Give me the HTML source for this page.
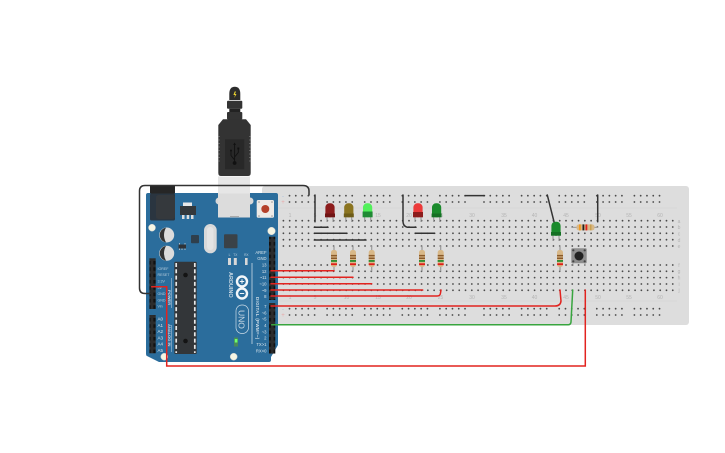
<!DOCTYPE html>
<html><head><meta charset="utf-8"><style>
html,body{margin:0;padding:0;background:#fff;width:725px;height:453px;overflow:hidden}
svg{display:block;font-family:"Liberation Sans",sans-serif}
</style></head><body>
<svg width="725" height="453" viewBox="0 0 725 453" xmlns="http://www.w3.org/2000/svg">
<defs>
<pattern id="pin" x="0" y="0" width="6.33" height="6.33" patternUnits="userSpaceOnUse"><rect width="6.33" height="6.33" fill="#2c2c2c"/><rect x="1.4" y="1.4" width="3.6" height="3.6" fill="#111"/></pattern>
<g id="res">
<rect x="-0.6" y="-13" width="1.2" height="26" fill="#9a9a9a"/>
<rect x="-3" y="-8.5" width="6" height="17" rx="2.4" fill="#d8b888"/>
<rect x="-3" y="-3.6" width="6" height="1.5" fill="#8a5a2a"/>
<rect x="-3" y="-1" width="6" height="1.5" fill="#8a5a2a"/>
<rect x="-3" y="1.6" width="6" height="1.7" fill="#1f8a2a"/>
<rect x="-3" y="4.8" width="6" height="1.8" fill="#e0201c"/>
</g>
</defs>
<rect width="725" height="453" fill="#fff"/>

<!-- breadboard -->
<rect x="262" y="186" width="427" height="139" rx="3" fill="#ddd"/>
<path d="M270 208H677M270 301H677" stroke="#d0d0d0" stroke-width=".6"/>
<g fill="none" stroke="#4a4a4a" stroke-width="1.800" stroke-linecap="round" stroke-dasharray="0.01 6.27">
<path d="M283.400 220.700H676M283.400 227H676M283.400 233.300H676M283.400 239.700H676M283.400 246H676"/>
<path d="M283.400 265H676M283.400 271.300H676M283.400 277.600H676M283.400 284H676M283.400 290.300H676"/>
<path d="M289.500 195.700h25.200M327.100 195.700h25.200M364.700 195.700h25.200M402.300 195.700h25.200M439.900 195.700h25.200M484 195.700h25.200M521.600 195.700h25.200M559.200 195.700h25.200M596.800 195.700h25.200M634.400 195.700h25.200"/>
<path d="M289.500 202h25.200M327.100 202h25.200M364.700 202h25.200M402.300 202h25.200M439.900 202h25.200M484 202h25.200M521.600 202h25.200M559.200 202h25.200M596.800 202h25.200M634.400 202h25.200"/>
<path d="M289.500 308.700h25.200M327.100 308.700h25.200M364.700 308.700h25.200M402.300 308.700h25.200M439.900 308.700h25.200M484 308.700h25.200M521.600 308.700h25.200M559.200 308.700h25.200M596.800 308.700h25.200M634.400 308.700h25.200"/>
<path d="M289.500 315h25.200M327.100 315h25.200M364.700 315h25.200M402.300 315h25.200M439.900 315h25.200M484 315h25.200M521.600 315h25.200M559.200 315h25.200M596.800 315h25.200M634.400 315h25.200"/>
</g>
<g font-size="5" fill="#b4b4b4" text-anchor="middle">
<text x="290" y="217">1</text><text x="315" y="217">5</text><text x="346.500" y="217">10</text><text x="378" y="217">15</text><text x="409" y="217">20</text><text x="440.500" y="217">25</text><text x="472" y="217">30</text><text x="504" y="217">35</text><text x="534.500" y="217">40</text><text x="566" y="217">45</text><text x="598" y="217">50</text><text x="629" y="217">55</text><text x="660" y="217">60</text>
<text x="290" y="299">1</text><text x="315" y="299">5</text><text x="346.500" y="299">10</text><text x="378" y="299">15</text><text x="409" y="299">20</text><text x="440.500" y="299">25</text><text x="472" y="299">30</text><text x="504" y="299">35</text><text x="534.500" y="299">40</text><text x="566" y="299">45</text><text x="598" y="299">50</text><text x="629" y="299">55</text><text x="660" y="299">60</text>
<text x="679" y="223">a</text><text x="679" y="229">b</text><text x="679" y="235.500">c</text><text x="679" y="242">d</text><text x="679" y="248">e</text>
<text x="679" y="267">f</text><text x="679" y="273">g</text><text x="679" y="279.500">h</text><text x="679" y="286">i</text><text x="679" y="292">j</text>
</g>
<g font-size="6" text-anchor="middle"><text x="283" y="198" fill="#a8c0dc">-</text><text x="283" y="204" fill="#e8a8a8">+</text><text x="283" y="311" fill="#a8c0dc">-</text><text x="283" y="317" fill="#e8a8a8">+</text></g>

<!-- arduino -->
<path d="M148 193H276Q278 193 278 195V345L271 357V360Q271 362 269 362H159L147 356Q146 355.500 146 354V195Q146 193 148 193Z" fill="#2b6d9c"/>
<path d="M252 263V344" stroke="#dfe8ef" stroke-width=".7"/>
<path d="M171.500 278V308M171.500 325V352" stroke="#9ab7cf" stroke-width=".7"/>
<!-- jack -->
<rect x="150" y="186" width="25" height="7.500" fill="#262626"/>
<rect x="150" y="193.500" width="25" height="27" rx="1.500" fill="#2a3540"/>
<rect x="156" y="195" width="19" height="24" rx="2.500" fill="#35393d"/>
<!-- regulator -->
<rect x="183" y="202.500" width="9" height="4" fill="#e8e8e8"/><rect x="180" y="206" width="16" height="9" fill="#33383c"/>
<rect x="182" y="215" width="2.500" height="4" fill="#ddd"/><rect x="186.700" y="215" width="2.500" height="4" fill="#ddd"/><rect x="191" y="215" width="2.500" height="4" fill="#ddd"/>
<!-- usb socket -->
<circle cx="219" cy="201" r="3.500" fill="#d8d8d8"/><circle cx="250" cy="201" r="3.500" fill="#d8d8d8"/>
<rect x="218" y="176.500" width="32" height="41" fill="#dcdcdc"/>
<rect x="218" y="176.500" width="32" height="17" fill="#e6e6e6"/>
<rect x="230" y="216" width="9" height="1" fill="#aaa"/>
<!-- reset -->
<rect x="256.700" y="200" width="17.300" height="17.700" rx="1.500" fill="#eeeae6"/>
<circle cx="265.300" cy="209" r="4" fill="#b5412a"/>
<g fill="#999"><circle cx="259" cy="202" r=".8"/><circle cx="272" cy="202" r=".8"/><circle cx="259" cy="216" r=".8"/><circle cx="272" cy="216" r=".8"/></g>
<!-- holes -->
<g fill="#f6f6e4" stroke="#ccc" stroke-width=".5"><circle cx="152" cy="227.700" r="3.500"/><circle cx="271.500" cy="231" r="3.800"/><circle cx="164.300" cy="356.700" r="3.500"/><circle cx="233.700" cy="356.700" r="3.500"/></g>
<!-- caps -->
<circle cx="166.700" cy="235" r="7.500" fill="#dcdcdc"/><path d="M166 227.600A7.500 7.500 0 0 0 166 242.400Q162 235 166 227.600Z" fill="#333"/>
<circle cx="166.700" cy="253.300" r="7.500" fill="#dcdcdc"/><path d="M166 245.900A7.500 7.500 0 0 0 166 260.700Q162 253.300 166 245.900Z" fill="#333"/>
<!-- crystal, ics -->
<rect x="204" y="224" width="12.700" height="29.300" rx="6.300" fill="#d9d9d9"/>
<rect x="207" y="227" width="6.500" height="23" rx="3.200" fill="#e4e4e4"/>
<rect x="224" y="234.300" width="13.500" height="14" rx="1" fill="#3a4248"/>
<rect x="191" y="235" width="8" height="8.300" rx="1" fill="#2f3f4c"/>
<rect x="178.500" y="244.500" width="7.500" height="4" fill="#2f3338"/><path d="M179.500 248.500V250M182 248.500V250M185 248.500V250M179.500 243V244.500M185 243V244.500" stroke="#ddd" stroke-width=".7"/>
<!-- chip -->
<rect x="174.300" y="261.700" width="22.400" height="92.300" rx="1" fill="#333639"/>
<path d="M176.200 263V353M194.800 263V353" stroke="#e8e8e8" stroke-width="1.700" stroke-dasharray="4 2.300"/>
<circle cx="185.500" cy="275" r="2.300" fill="#141414"/><circle cx="185.500" cy="341" r="2.300" fill="#141414"/>
<!-- headers -->
<rect x="269" y="236.700" width="6.300" height="63.300" fill="url(#pin)"/>
<rect x="269" y="303" width="6.300" height="50.600" fill="url(#pin)"/>
<rect x="149.400" y="258.300" width="6.300" height="50.700" fill="url(#pin)"/>
<rect x="149.400" y="315" width="6.300" height="38.300" fill="url(#pin)"/>
<!-- labels -->
<g font-size="4.200" fill="#d8e4ec" text-anchor="end">
<text x="266.500" y="254">AREF</text><text x="266.500" y="260.200">GND</text><text x="266.500" y="266.500">13</text><text x="266.500" y="272.800">12</text><text x="266.500" y="279.200">~11</text><text x="266.500" y="285.500">~10</text><text x="266.500" y="291.800">~9</text><text x="266.500" y="298">8</text>
<text x="266.500" y="308">7</text><text x="266.500" y="314.300">~6</text><text x="266.500" y="320.700">~5</text><text x="266.500" y="327">4</text><text x="266.500" y="333.300">~3</text><text x="266.500" y="339.700">2</text><text x="266.500" y="346">TX&gt;1</text><text x="266.500" y="352.300">RX&lt;0</text>
</g>
<g font-size="3.600" fill="#b9cedd">
<text x="157.500" y="270">IOREF</text><text x="157.500" y="276.200">RESET</text><text x="157.500" y="282.500">3.3V</text><text x="157.500" y="288.800">5V</text><text x="157.500" y="295">GND</text><text x="157.500" y="301.300">GND</text><text x="157.500" y="307.700">Vin</text>
</g>
<g font-size="4.500" fill="#e0e8ee">
<text x="157.500" y="320.500">A0</text><text x="157.500" y="326.800">A1</text><text x="157.500" y="333">A2</text><text x="157.500" y="339.300">A3</text><text x="157.500" y="345.700">A4</text><text x="157.500" y="352">A5</text>
</g>
<g fill="#c8d8e4">
<text transform="translate(256 297) rotate(90)" font-size="4.500" font-weight="bold" letter-spacing=".3">DIGITAL (PWM=~)</text>
<text transform="translate(168 290) rotate(90)" font-size="4" font-weight="bold">POWER</text>
<text transform="translate(168 324) rotate(90)" font-size="4" font-weight="bold">ANALOG IN</text>
<text transform="translate(229 272) rotate(90)" font-size="5.500" font-weight="bold">ARDUINO</text>
</g>
<!-- logo -->
<g fill="none" stroke="#f2f6f9" stroke-width="2.400"><circle cx="242" cy="281.500" r="5"/><circle cx="242" cy="293.500" r="5"/></g>
<path d="M239.800 281.500H244.200M242 279.300V283.700M239.800 293.500H244.200" stroke="#f2f6f9" stroke-width="1"/>
<rect x="236" y="305" width="12.500" height="28.500" rx="6" fill="none" stroke="#cfdde8" stroke-width=".7"/>
<text transform="translate(238.700 310) rotate(90)" font-size="8.500" fill="#c8d8e4">UNO</text>
<!-- small leds -->
<g fill="#d8d8d8"><rect x="228" y="258" width="3" height="7"/><rect x="233.800" y="258" width="3" height="7"/><rect x="245" y="258" width="2.600" height="7"/></g>
<g font-size="3.200" fill="#b9cedd" text-anchor="middle"><text x="229.500" y="256">L</text><text x="235.300" y="256">TX</text><text x="246.300" y="256">RX</text></g>
<rect x="234" y="337.500" width="4" height="9" fill="#4a8a5a"/><rect x="234.800" y="339" width="2.600" height="3.500" fill="#6dff6d"/>

<!-- plug -->
<path d="M229.300 100V94Q229.300 86.700 234.800 86.700Q240.300 86.700 240.300 94V100Z" fill="#2c2c2c"/>
<path d="M234.700 91.500L233.400 95H235L234.300 98L236.500 94H235L236 91.500Z" fill="#e8d030"/>
<rect x="227" y="100.700" width="15.300" height="8" rx="1" fill="#333"/>
<rect x="229.300" y="108.700" width="11" height="3.500" fill="#222"/>
<rect x="227" y="112" width="15.300" height="7.500" rx="1" fill="#333"/>
<path d="M223 119.300H246L250.700 125V173Q250.700 176 248 176H221Q218.300 176 218.300 173V125Z" fill="#333"/>
<path d="M218.300 136.500H219.700M218.300 140H219.700M218.300 143.500H219.700M218.300 147H219.700M218.300 150.500H219.700M218.300 154H219.700M218.300 157.500H219.700M218.300 161H219.700M249.300 136.500H250.700M249.300 140H250.700M249.300 143.500H250.700M249.300 147H250.700M249.300 150.500H250.700M249.300 154H250.700M249.300 157.500H250.700M249.300 161H250.700" stroke="#777" stroke-width="1"/>
<rect x="225" y="139.300" width="19.300" height="30" fill="#282828"/>
<path d="M234.600 144V163M234.600 160L231 155.500V151M234.600 157L238.300 152.500V149" fill="none" stroke="#111" stroke-width=".9"/>
<circle cx="234.600" cy="163" r="1.900" fill="#111"/><path d="M234.600 142.500L233.200 145H236Z" fill="#111"/><circle cx="231" cy="150.500" r="1" fill="#111"/><rect x="237.300" y="147.500" width="2" height="2" fill="#111"/>

<!-- breadboard components -->
<g stroke="#999" stroke-width="1.100" fill="none"><path d="M327 216V222M333 216V222M345.800 216V222M351.700 216V222M364.700 216V222M370.700 216V222M415 216V222M421 216V222M433.700 216V222M439.700 216V222"/></g>
<g>
<rect x="325.400" y="203.300" width="9.200" height="14" rx="4" fill="#8c1c1c"/><rect x="325" y="213.500" width="10" height="3.800" fill="#701414"/>
<rect x="344.200" y="203.300" width="9.200" height="14" rx="4" fill="#8b7420"/><rect x="343.800" y="213.500" width="10" height="3.800" fill="#6e5c18"/>
<rect x="363" y="203.300" width="9.200" height="14" rx="4" fill="#52f05a"/><rect x="362.600" y="211.500" width="10" height="5.800" fill="#1f8a34"/>
<rect x="413.400" y="203.300" width="9.200" height="14" rx="4" fill="#ec3a3a"/><rect x="413" y="212" width="10" height="5.300" fill="#8c1c1c"/>
<rect x="432" y="203.300" width="9.200" height="14" rx="4" fill="#1a8a2c"/><rect x="431.600" y="213.500" width="10" height="3.800" fill="#157024"/>
</g>
<path d="M553 235V241M559 235V241" stroke="#999" stroke-width="1.100"/>
<rect x="551.400" y="221.700" width="9.200" height="14" rx="4" fill="#1a8a2c"/><rect x="551" y="232" width="10" height="3.700" fill="#157024"/>
<use href="#res" x="334" y="258.500"/><use href="#res" x="353" y="258.500"/><use href="#res" x="371.700" y="258.500"/><use href="#res" x="422" y="258.500"/><use href="#res" x="440.700" y="258.500"/><use href="#res" x="560" y="258.500"/>
<!-- horizontal resistor -->
<rect x="571.700" y="226.800" width="26.300" height="1.100" fill="#999"/>
<rect x="576.500" y="224.400" width="18" height="6" rx="2.400" fill="#d8b888"/>
<rect x="579" y="224.400" width="1.800" height="6" fill="#f09a20"/><rect x="582.500" y="224.400" width="1.800" height="6" fill="#222"/><rect x="585.500" y="224.400" width="1.800" height="6" fill="#e0201c"/><rect x="590" y="224.400" width="1.500" height="6" fill="#c8a050"/>
<!-- button -->
<rect x="571.300" y="248.300" width="15.400" height="15" rx="1" fill="#8e8e8e"/>
<circle cx="579" cy="256" r="4.500" fill="#222"/>
<g fill="#444"><circle cx="573.300" cy="250.300" r="1.100"/><circle cx="584.700" cy="250.300" r="1.100"/><circle cx="573.300" cy="261.300" r="1.100"/><circle cx="584.700" cy="261.300" r="1.100"/></g>
<path d="M573 263.500V266M585 263.500V266" stroke="#999" stroke-width="1"/>

<!-- wires -->
<g fill="none" stroke-linecap="round">
<g stroke="#333" stroke-width="1.500">
<path d="M309 195V191Q309 185.500 303 185.500H145Q139.500 185.500 139.500 191V288Q139.500 293.500 145 293.500H150"/>
<path d="M315 195V221.700M314.300 227.300H328M314.300 233.300H347M314.300 240H366"/>
<path d="M403 195V221Q403 227.300 409 227.300H416M415.300 233.300H434.700M465.500 195.600H484.500M547.300 195L554 221.700M597.700 195V221.700"/>
</g>
<g stroke="#e2231f" stroke-width="1.500">
<path d="M271 270.800H334M271 277.300H353M271 283.700H371.700M271 290H422.700M271 296H437Q440.300 296 440.500 293L441 290"/>
<path d="M271 306H555Q560.500 306 561 301L560 290"/>
<path d="M151.700 286.700H166.700V366H585.300V290"/>
</g>
<path d="M271.700 324.700H568.500Q570.700 324.700 571 322L572.700 290" stroke="#38a53f" stroke-width="1.500"/>
</g>
</svg>
</body></html>
